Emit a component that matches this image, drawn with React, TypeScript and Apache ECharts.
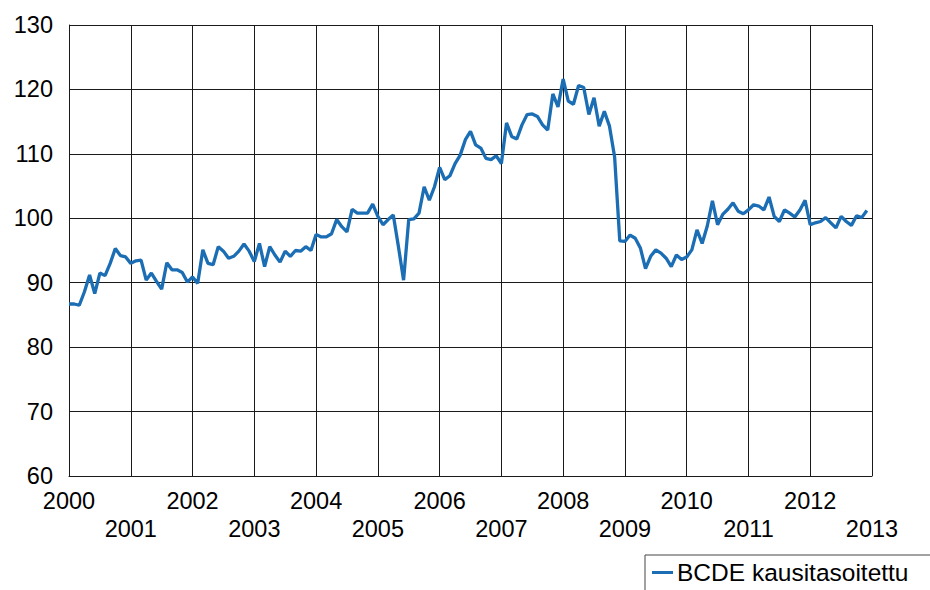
import React, { useEffect, useRef } from "react";
import * as echarts from "echarts";

const startYear = 2000;
const yearTicks = [2000, 2001, 2002, 2003, 2004, 2005, 2006, 2007, 2008, 2009, 2010, 2011, 2012, 2013];
const seriesName = "BCDE kausitasoitettu";

const v2000 = [86.7, 86.7, 86.5, 88.6, 91.2, 88.3, 91.5, 91.1, 93.0, 95.3, 94.2, 94.0];
const v2001 = [93.0, 93.4, 93.5, 90.4, 91.5, 90.2, 89.0, 93.1, 92.0, 92.0, 91.6, 90.1];
const v2002 = [90.9, 89.9, 95.1, 93.0, 92.8, 95.6, 94.9, 93.8, 94.1, 94.9, 96.0, 94.9];
const v2003 = [93.3, 96.1, 92.5, 95.6, 94.3, 93.2, 94.9, 94.1, 95.0, 94.9, 95.6, 95.0];
const v2004 = [97.5, 97.1, 97.1, 97.6, 99.8, 98.7, 97.9, 101.4, 100.8, 100.8, 100.8, 102.2];
const v2005 = [100.3, 99.0, 99.8, 100.5, 95.6, 90.4, 99.8, 99.9, 100.8, 104.9, 102.8, 104.9];
const v2006 = [107.9, 106.0, 106.6, 108.5, 109.8, 112.2, 113.5, 111.4, 110.9, 109.3, 109.1, 109.7];
const v2007 = [108.5, 114.8, 112.7, 112.3, 114.5, 116.1, 116.2, 115.8, 114.5, 113.7, 119.3, 117.3];
const v2008 = [121.6, 118.2, 117.7, 120.6, 120.3, 116.1, 118.7, 114.3, 116.6, 114.3, 109.5, 96.5];
const v2009 = [96.4, 97.4, 96.9, 95.4, 92.2, 94.1, 95.1, 94.6, 93.8, 92.5, 94.3, 93.6];
const v2010 = [94.0, 95.1, 98.2, 96.1, 98.8, 102.7, 99.0, 100.6, 101.4, 102.4, 101.1, 100.7];
const v2011 = [101.3, 102.1, 101.9, 101.3, 103.3, 100.3, 99.5, 101.3, 100.8, 100.2, 101.3, 102.8];
const v2012 = [99.0, 99.3, 99.5, 100.1, 99.3, 98.5, 100.3, 99.5, 98.9, 100.4, 100.1, 101.2];

const yearly = [v2000, v2001, v2002, v2003, v2004, v2005, v2006, v2007, v2008, v2009, v2010, v2011, v2012];

const FONT = "'Liberation Sans', Arial, sans-serif";

export default function App() {
  const ref = useRef<HTMLDivElement>(null);

  useEffect(() => {
    if (!ref.current) return;
    const chart = echarts.init(ref.current, undefined, { renderer: "svg" });
    const data: [number, number][] = [];
    yearly.forEach((vals, yi) => {
      vals.forEach((v, m) => {
        data.push([startYear + yi + m / 12, v]);
      });
    });
    chart.setOption({
      animation: false,
      backgroundColor: "#fff",
      grid: { left: 69, top: 25, width: 803, height: 451 },
      legend: {
        show: true,
        left: 645,
        top: 555,
        orient: "horizontal",
        data: [{ name: seriesName, icon: "rect" }],
        itemWidth: 21,
        itemHeight: 3,
        padding: [5, 27, 12, 7],
        borderColor: "#444",
        borderWidth: 1,
        textStyle: { fontFamily: FONT, fontSize: 24.5, color: "#000", padding: [0, 0, 0, -1] },
      },
      xAxis: {
        type: "value",
        min: yearTicks[0],
        max: yearTicks[yearTicks.length - 1],
        interval: 1,
        axisLine: { show: true, lineStyle: { color: "#1a1a1a", width: 1 } },
        axisTick: { show: false },
        splitLine: { show: true, lineStyle: { color: "#1a1a1a", width: 1 } },
        axisLabel: {
          showMinLabel: true,
          showMaxLabel: true,
          margin: 11,
          fontFamily: FONT,
          fontSize: 23.5,
          lineHeight: 28,
          color: "#000",
          formatter: (v: number) => (v % 2 === 0 ? String(v) : "\n" + String(v)),
        },
      },
      yAxis: {
        type: "value",
        min: 60,
        max: 130,
        interval: 10,
        axisLine: { show: true, lineStyle: { color: "#1a1a1a", width: 1 } },
        axisTick: { show: false },
        splitLine: { show: true, lineStyle: { color: "#1a1a1a", width: 1 } },
        axisLabel: {
          margin: 16,
          fontFamily: FONT,
          fontSize: 23.5,
          color: "#000",
        },
      },
      series: [
        {
          name: seriesName,
          type: "line",
          data,
          symbol: "none",
          smooth: false,
          lineStyle: { color: "#1b6db4", width: 3.3 },
          itemStyle: { color: "#1b6db4" },
        },
      ],
    });
    return () => chart.dispose();
  }, []);

  return (
    <div
      ref={ref}
      style={{ position: "fixed", left: 0, top: 0, width: 930, height: 590, background: "#fff" }}
    />
  );
}
